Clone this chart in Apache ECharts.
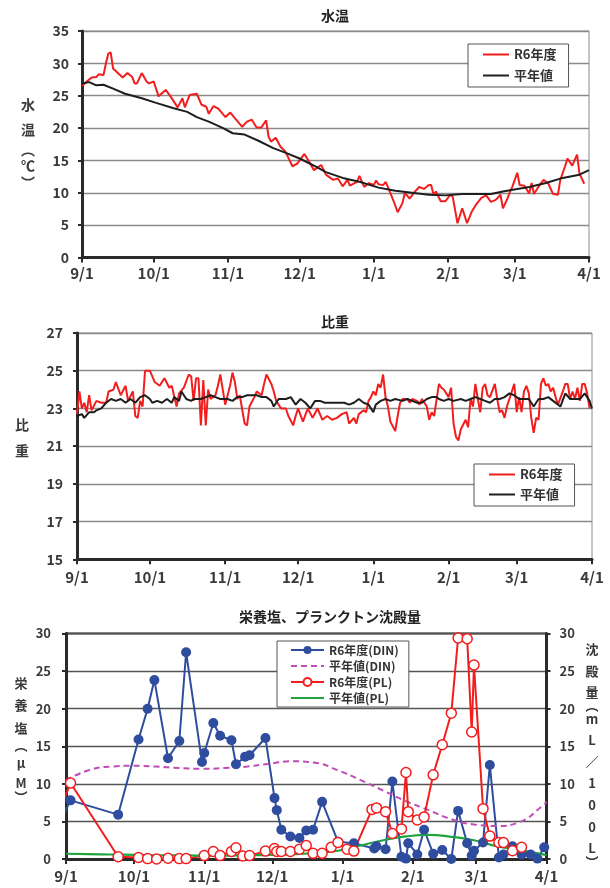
<!DOCTYPE html>
<html><head><meta charset="utf-8">
<script src="https://cdn.jsdelivr.net/npm/echarts@6/dist/echarts.min.js"></script>
<style>html,body{margin:0;padding:0;background:#fff}#c{width:610px;height:888px}</style>
</head><body><div id="c"></div>
<script>
// ---------- x-axis tick labels ----------
const monthTicks = ['9/1','10/1','11/1','12/1','1/1','2/1','3/1','4/1'];

// ---------- 水温 (days since 9/1) ----------
const tempR6Day = [0,2,4,6,7,9,10,11,12,13,15,17,19,21,22,23,25,27,28,30,32,35,37,40,42,43,45,48,50,52,53,55,57,60,62,64,67,69,71,73,75,77,78,79,81,83,85,88,90,93,95,97,100,102,105,107,109,111,112,115,116,118,120,122,123,124,126,127,129,130,132,134,135,137,139,141,143,145,146,147,148,150,152,154,155,157,159,161,163,165,167,169,171,173,175,176,178,179,180,182,183,185,187,188,189,191,193,195,197,199,200,202,203,205,207,208,210];
const tempR6 = [26.5,27.2,27.8,27.9,28.3,28.2,30.0,31.5,31.7,29.2,28.5,27.8,28.5,27.9,26.9,26.9,28.5,27.2,26.9,27.2,24.9,25.9,24.9,23.2,24.6,23.2,25.1,25.3,23.6,23.3,22.2,23.4,23.0,21.7,22.4,21.5,20.2,21.0,21.3,20.1,20.1,21.2,18.7,17.9,18.5,17.1,16.4,14.1,14.5,16.0,14.8,13.5,14.3,12.8,12.0,12.2,11.0,12.0,11.1,11.7,12.6,10.9,11.5,11.2,11.9,11.3,11.2,11.7,9.9,9.0,7.0,8.4,10.0,9.1,10.1,10.9,10.6,11.2,11.2,9.7,10.2,8.7,8.7,9.7,9.4,5.3,7.6,5.3,7.1,8.3,9.2,9.6,8.6,8.9,9.7,7.6,9.2,10.2,11.0,13.1,11.2,11.1,9.9,11.5,9.8,11.0,12.0,11.4,9.8,9.7,12.0,14.1,15.3,14.2,15.9,13.0,11.4];
const tempAvgDay = [0,3,6,9,13,18,25,31,38,44,48,53,59,63,68,74,80,85,91,97,102,109,116,124,131,138,145,152,159,166,171,176,182,187,194,201,208,212];
const tempAvg = [26.9,27.1,26.6,26.7,26.1,25.3,24.6,23.9,23.1,22.5,21.7,21.0,20.0,19.2,19.0,18.0,16.9,16.2,15.3,14.2,13.2,12.3,11.7,10.8,10.3,10.0,9.7,9.6,9.8,9.8,9.8,10.2,10.6,10.9,11.5,12.3,12.8,13.5];

// ---------- 比重 (days since 9/1) ----------
const sgR6Day = [0,1,2,3,4,5,6,8,10,12,13,15,16,18,20,21,23,24,25,26,27,
  28,30,32,34,36,38,39,41,42,44,46,47,48,49,50,51,52,53,54,55,57,58,59,
  60,61,63,64,65,66,67,69,70,71,73,74,76,77,78,80,81,82,84,86,87,89,90,91,93,95,97,99,
  101,103,105,107,109,111,112,114,115,116,118,119,120,121,122,123,124,125,126,127,128,129,131,
  132,133,134,136,137,138,140,141,142,144,145,146,147,149,150,151,153,154,155,156,157,158,160,161,
  162,163,164,165,166,167,168,169,170,172,173,174,175,176,177,178,179,180,181,182,183,184,185,186,187,188,189,190,
  191,192,193,194,195,196,197,198,200,201,202,203,204,205,206,207,208,209,210,211];
const sgR6 = [22.7,23.9,23.0,23.3,22.8,23.7,22.9,23.4,23.3,23.3,23.9,24.0,24.4,23.7,24.2,23.4,23.9,22.6,22.5,23.4,23.1,
  25.0,25.0,24.4,24.2,24.6,24.1,24.2,23.1,23.8,24.1,24.8,24.7,23.4,24.6,24.6,22.1,24.5,22.1,24.0,23.5,23.7,24.2,24.8,
  24.0,23.2,24.2,24.9,24.4,23.5,23.7,22.2,22.1,23.1,23.6,23.9,23.7,24.3,24.8,24.3,23.9,23.4,23.0,23.0,22.6,22.1,22.6,23.0,22.3,23.0,22.5,23.0,
  22.4,22.6,22.4,22.5,22.7,22.8,22.2,22.5,22.2,22.7,22.9,22.8,23.4,23.6,23.9,23.7,24.3,24.1,24.8,23.6,23.1,22.3,21.8,
  22.6,23.3,23.5,23.5,23.3,23.5,23.4,23.2,23.5,23.1,22.4,22.8,22.6,24.3,24.1,24.0,23.6,24.1,22.2,21.5,21.3,21.9,22.4,22.0,
  23.5,23.1,24.3,23.5,22.8,24.1,24.3,23.7,23.6,24.3,23.5,22.8,22.9,22.5,23.1,23.5,23.9,24.3,22.8,23.6,22.8,23.9,24.2,23.8,22.5,21.7,22.5,22.4,
  24.3,24.6,24.2,24.3,23.9,24.1,23.6,23.2,23.9,24.3,24.3,23.5,23.9,23.5,24.1,23.4,24.3,24.3,23.8,23.0];
const sgAvgDay = [0,2,3,5,7,8,10,12,14,16,18,20,22,24,26,28,30,31,33,35,37,39,40,42,43,45,47,48,51,53,55,57,59,62,64,66,68,70,72,74,76,78,80,81,83,86,88,90,92,94,96,98,100,102,104,107,110,112,114,116,118,120,122,123,125,127,129,131,134,136,138,140,142,144,146,148,149,151,153,155,158,160,162,164,166,168,170,172,174,176,178,180,182,184,186,188,190,192,194,196,199,201,203,205,207,209,211,212];
const sgAvg = [22.6,22.7,22.5,22.8,22.8,22.9,23.0,23.3,23.5,23.4,23.5,23.3,23.5,23.3,23.6,23.7,23.5,23.3,23.4,23.3,23.5,23.3,23.6,23.4,23.9,23.5,23.4,23.5,23.5,23.6,23.7,23.6,23.5,23.5,23.4,23.6,23.6,23.7,23.7,23.7,23.6,23.6,23.4,23.1,23.5,23.5,23.6,23.2,23.5,23.3,23.0,23.4,23.4,23.3,23.3,23.3,23.3,23.2,23.3,23.5,23.3,23.2,22.8,23.2,23.4,23.5,23.4,23.5,23.4,23.5,23.4,23.3,23.3,23.5,23.6,23.6,23.5,23.4,23.5,23.4,23.5,23.4,23.5,23.6,23.5,23.4,23.3,23.5,23.5,23.6,23.8,23.7,23.5,23.5,23.5,23.1,23.5,23.5,23.6,23.4,23.1,23.8,23.5,23.5,23.5,23.8,23.4,23.0];

// ---------- 栄養塩 (DIN, μM) ----------
const dinDates = ['8/29','9/3','9/24','10/3','10/7','10/10','10/16','10/21','10/24','10/31','11/1','11/5','11/8','11/13','11/15','11/19','11/21','11/28','12/2','12/3','12/5','12/9','12/13','12/16','12/19','12/23','12/30','1/6','1/15','1/16','1/20','1/23','1/27','1/29','1/30','2/3','2/6','2/10','2/14','2/18','2/21','2/25','2/27','2/28','3/4','3/7','3/11','3/13','3/17','3/21','3/25','3/28','3/31'];
const dinR6 = [4.7,7.8,5.9,15.9,20.0,23.8,13.4,15.7,27.5,12.9,14.1,18.1,16.4,15.8,12.6,13.6,13.8,16.1,8.1,6.5,3.9,3.0,2.8,3.8,3.9,7.6,2.3,2.1,1.4,1.7,1.3,10.3,0.3,0.05,2.1,0.6,3.9,0.7,1.2,0.0,6.4,2.1,0.45,1.1,2.2,12.5,0.2,0.6,1.7,0.6,0.6,0.05,1.55];
const avgDates = ['9/1','9/11','9/21','10/1','10/11','10/21','10/31','11/10','11/20','11/30','12/10','12/20','12/30','1/9','1/19','1/29','2/8','2/18','2/28','3/10','3/20','3/30','4/1'];
const dinAvg = [10.5,11.8,12.3,12.4,12.3,12.1,12.0,12.1,12.3,12.7,13.0,12.8,11.8,10.5,9.1,7.7,6.5,5.3,4.6,4.4,4.9,7.0,7.6];

// ---------- プランクトン沈殿量 (PL, mL/100L) ----------
const plDates = ['8/29','9/3','9/24','10/3','10/7','10/11','10/16','10/21','10/24','11/1','11/5','11/8','11/13','11/15','11/18','11/21','11/28','12/2','12/3','12/5','12/9','12/13','12/16','12/19','12/23','12/27','12/30','1/3','1/6','1/14','1/16','1/20','1/23','1/27','1/29','1/30','2/3','2/6','2/10','2/14','2/18','2/21','2/25','2/27','2/28','3/4','3/7','3/11','3/13','3/17','3/21'];
const plR6 = [6.3,10.1,0.3,0.2,0.05,0.0,0.1,0.05,0.05,0.45,1.0,0.45,1.0,1.5,0.4,0.45,1.05,1.4,1.0,1.0,1.0,1.3,1.8,0.75,0.75,1.55,2.2,1.3,1.05,6.6,6.8,6.3,3.4,4.0,11.5,6.3,5.2,5.6,11.2,15.2,19.4,29.4,29.3,16.9,25.8,6.7,3.05,2.2,2.2,1.1,1.55];
const plAvg = [0.7,0.65,0.6,0.55,0.5,0.5,0.45,0.45,0.5,0.55,0.65,0.8,1.1,1.8,2.5,3.0,3.2,2.95,2.5,1.7,1.2,0.65,0.5];

// ---------- helpers ----------
function dayOf(s){const [m,d]=s.split('/').map(Number);const y=m>=8?2024:2025;return Math.round((Date.UTC(y,m-1,d)-Date.UTC(2024,8,1))/86400000);}
function pairs(xs,ys){if(xs.length!==ys.length)console.error('len mismatch',xs.length,ys.length);return xs.map((x,i)=>[x,ys[i]]);}
function datePairs(ds,ys){return pairs(ds.map(dayOf),ys);}
const tickDays = monthTicks.map(dayOf);
const tickLabel = {}; monthTicks.forEach((t,i)=>{tickLabel[tickDays[i]]=t;});

const FONT = '"Noto Sans CJK JP","Noto Sans",sans-serif';
const TXT = '#3a3a3a';
const RED = '#f21d1d', BLACK = '#1e1e1e', BLUE = '#2f4d9f', PURPLE = '#c04cb6', GREEN = '#1fa43e';
const CLEAR = 'rgba(0,0,0,0)';

function mkX(gi, fs, margin){
  return {type:'value', gridIndex:gi, min:0, max:212,
    axisLine:{show:true,onZero:false,lineStyle:{color:'#2a2a2a',width:3}},
    axisTick:{show:true,customValues:tickDays,length:5,lineStyle:{color:'#2a2a2a',width:2}},
    axisLabel:{customValues:tickDays,formatter:v=>tickLabel[Math.round(v)]||'',fontSize:fs,fontWeight:'bold',color:TXT,margin:margin,fontFamily:FONT},
    splitLine:{show:false}};
}
function mkY(gi,min,max,interval,fs,margin,pos,gridColor,showSplit){
  return {type:'value', gridIndex:gi, min:min, max:max, interval:interval, position:pos||'left',
    axisLine:{show:true,onZero:false,lineStyle:{color:'#2a2a2a',width:3}},
    axisTick:{show:true,length:4,lineStyle:{color:'#2a2a2a',width:2}},
    axisLabel:{fontSize:fs,fontWeight:'bold',color:TXT,margin:margin,fontFamily:FONT},
    splitLine:{show:showSplit!==false,lineStyle:{color:gridColor,width:1.3}}};
}
function vText(chars, x, ys, fs){
  return chars.map((c,i)=>({type:'text',x:x,y:ys[i],silent:true,
    style:{text:c,fill:TXT,font:'bold '+fs+'px '+FONT,align:'center',verticalAlign:'middle'}}));
}
function hText(t,x,y,fs){return {type:'text',x:x,y:y,silent:true,style:{text:t,fill:'#222',font:'bold '+fs+'px '+FONT,align:'center',verticalAlign:'middle'}};}
// plain line series (no markers, no marker in legend)
function plainLine(name,xi,yi,data,color,width,extra){
  return Object.assign({type:'line',name:name,xAxisIndex:xi,yAxisIndex:yi,data:data,symbol:'circle',showSymbol:false,
    lineStyle:{color:color,width:width},itemStyle:{color:CLEAR,borderColor:CLEAR,borderWidth:0},emphasis:{disabled:true}},extra||{});
}

const legendBase = {orient:'vertical',backgroundColor:'#fff',borderColor:'#555',borderWidth:1,
  textStyle:{color:'#333',fontFamily:FONT,fontWeight:'bold'}};

const option = {
  animation:false,
  backgroundColor:'#fff',
  grid:[
    {left:82,top:31,width:507,height:226.5,show:true,borderColor:'#8a8a8a',borderWidth:1,outerBoundsMode:'none'},
    {left:77,top:333,width:515,height:226.3,show:true,borderColor:'#8a8a8a',borderWidth:1,outerBoundsMode:'none'},
    {left:66,top:633.5,width:480.5,height:225.5,show:true,borderColor:'#2a2a2a',borderWidth:2,outerBoundsMode:'none'}
  ],
  xAxis:[mkX(0,15,8), mkX(1,15,10), mkX(2,15,10)],
  yAxis:[
    mkY(0,0,35,5,14,13,'left','#8a8a8a'),
    mkY(1,15,27,2,14,14,'left','#8a8a8a'),
    mkY(2,0,30,5,13,15,'left','#555'),
    mkY(2,0,30,5,13,13,'right','#555',false)
  ],
  legend:[
    Object.assign({},legendBase,{left:468,top:44,data:['R6年度','平年値'],itemWidth:26,itemHeight:12,itemGap:8,padding:[4,12,5,14],textStyle:Object.assign({},legendBase.textStyle,{fontSize:13})}),
    Object.assign({},legendBase,{left:474,top:464,data:['R6年度','平年値'],itemWidth:26,itemHeight:12,itemGap:7,padding:[4,12,5,14],textStyle:Object.assign({},legendBase.textStyle,{fontSize:13})}),
    Object.assign({},legendBase,{left:277,top:641,data:['R6年度(DIN)','平年値(DIN)','R6年度(PL)','平年値(PL)'],itemWidth:33,itemHeight:10,itemGap:4,padding:[3,10,3,13],textStyle:Object.assign({},legendBase.textStyle,{fontSize:12})})
  ],
  series:[
    plainLine('R6年度',0,0,pairs(tempR6Day,tempR6),RED,2),
    plainLine('平年値',0,0,pairs(tempAvgDay,tempAvg),BLACK,2),
    plainLine('R6年度',1,1,pairs(sgR6Day,sgR6),RED,2),
    plainLine('平年値',1,1,pairs(sgAvgDay,sgAvg),BLACK,2),
    {type:'line',name:'R6年度(DIN)',xAxisIndex:2,yAxisIndex:2,data:datePairs(dinDates,dinR6),symbol:'circle',symbolSize:10,showAllSymbol:true,lineStyle:{color:BLUE,width:2},itemStyle:{color:BLUE}},
    plainLine('平年値(DIN)',2,2,datePairs(avgDates,dinAvg),PURPLE,2,{smooth:0.5,lineStyle:{color:PURPLE,width:2,type:[6,4]}}),
    {type:'line',name:'R6年度(PL)',xAxisIndex:2,yAxisIndex:3,data:datePairs(plDates,plR6),symbol:'circle',symbolSize:10,showAllSymbol:true,lineStyle:{color:RED,width:2},itemStyle:{color:'#fff',borderColor:RED,borderWidth:1.5}},
    plainLine('平年値(PL)',2,3,datePairs(avgDates,plAvg),GREEN,2.2,{smooth:0.5})
  ],
  graphic:[
    hText('水温',335,16,14),
    hText('比重',335,322,14),
    hText('栄養塩、プランクトン沈殿量',330,617,14)
  ].concat(
    vText(['水','温','︵','℃','︶'],28,[105,130,150,166,183],14),
    vText(['比','重'],22,[425,451],14),
    vText(['栄','養','塩','︵','μ','M','︶'],21,[683,705,728,745,763,783,797],13),
    vText(['沈','殿','量','︵','m','L','／','1','0','0','L','︶'],592,[649,671,692,705,719,740,762,783,805,827,848,862],13)
  )
};
const chart = echarts.init(document.getElementById('c'));
chart.setOption(option);
</script></body></html>
